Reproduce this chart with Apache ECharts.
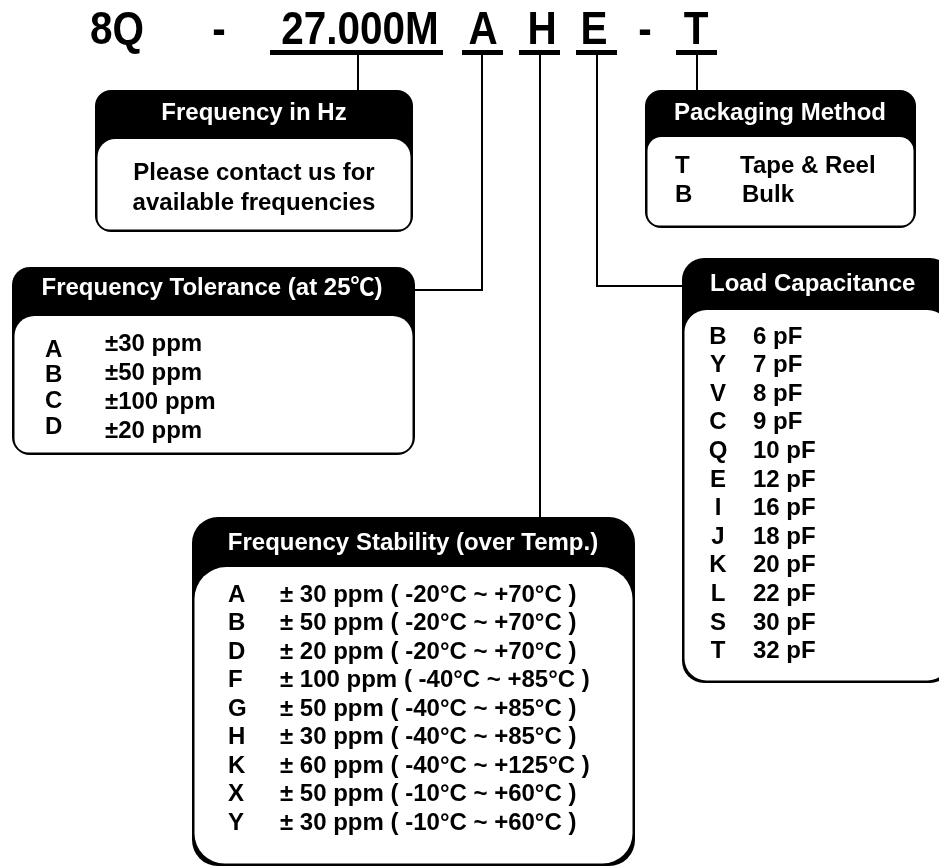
<!DOCTYPE html>
<html>
<head>
<meta charset="utf-8">
<script src="https://cdn.jsdelivr.net/npm/echarts@6/dist/echarts.min.js"></script>
<style>
  html, body { margin: 0; padding: 0; background: #fff; }
  #chart { width: 939px; height: 868px; }
</style>
</head>
<body>
<div id="chart"></div>
<script>
// part number segments
const partSegments = ['8Q', '-', '27.000M', 'A', 'H', 'E', '-', 'T']

// option boxes
const freqTitle = 'Frequency in Hz'
const freqLines = ['Please contact us for', 'available frequencies']

const packTitle = 'Packaging Method'
const packCodes = ['T', 'B']
const packNames = ['Tape & Reel', 'Bulk']

const tolTitle = 'Frequency Tolerance (at 25℃)'
const tolCodes = ['A', 'B', 'C', 'D']
const tolValues = ['±30 ppm', '±50 ppm', '±100 ppm', '±20 ppm']

const loadTitle = 'Load Capacitance'
const loadCodes = ['B', 'Y', 'V', 'C', 'Q', 'E', 'I', 'J', 'K', 'L', 'S', 'T']
const loadValues = ['6 pF', '7 pF', '8 pF', '9 pF', '10 pF', '12 pF', '16 pF', '18 pF', '20 pF', '22 pF', '30 pF', '32 pF']

const stabTitle = 'Frequency Stability (over Temp.)'
const stabCodes = ['A', 'B', 'D', 'F', 'G', 'H', 'K', 'X', 'Y']
const stabValues = [
  '± 30 ppm ( -20°C ~ +70°C )',
  '± 50 ppm ( -20°C ~ +70°C )',
  '± 20 ppm ( -20°C ~ +70°C )',
  '± 100 ppm ( -40°C ~ +85°C )',
  '± 50 ppm ( -40°C ~ +85°C )',
  '± 30 ppm ( -40°C ~ +85°C )',
  '± 60 ppm ( -40°C ~ +125°C )',
  '± 50 ppm ( -10°C ~ +60°C )',
  '± 30 ppm ( -10°C ~ +60°C )'
]

// layout
const FONT = '"Liberation Sans", Arial, "Noto Sans CJK SC", sans-serif'
const bodyFont = 'bold 24px ' + FONT
const segX = [117, 219, 360, 483, 542, 594, 645, 696]
const underlines = { 2: [270, 443], 3: [462, 503], 4: [519, 560], 5: [576, 617], 7: [676, 717] }

function txt(x, y, text, font, fill, align, vAlign, extra) {
  return Object.assign({
    type: 'text', x: x, y: y, silent: true,
    style: {
      text: text, font: font, fill: fill,
      align: align || 'left', verticalAlign: vAlign || 'middle',
      textAlign: align || 'left', textVerticalAlign: vAlign || 'middle'
    }
  }, extra || {})
}

// black box with header band and white body panel
function box(x, y, w, h, headBottom, rOut, rIn, rBot) {
  const lw = 2.5
  return [
    { type: 'rect', silent: true, shape: { x: x, y: y, width: w, height: h, r: rOut }, style: { fill: '#000' } },
    {
      type: 'rect', silent: true,
      shape: { x: x + lw, y: headBottom, width: w - 2 * lw, height: y + h - lw - headBottom, r: [rIn, rIn, rBot, rBot] },
      style: { fill: '#fff' }
    }
  ]
}

function line(points) {
  return { type: 'polyline', silent: true, shape: { points: points }, style: { stroke: '#000', lineWidth: 2, fill: null } }
}

const els = []

// title
partSegments.forEach((s, i) => {
  els.push(txt(segX[i], 31, s, 'bold 46px ' + FONT, '#000', 'center', 'middle', { scaleX: 0.88 }))
  if (underlines[i]) {
    const u = underlines[i]
    els.push({ type: 'rect', silent: true, shape: { x: u[0], y: 50, width: u[1] - u[0], height: 5 }, style: { fill: '#000' } })
  }
})

// connectors
els.push(line([[358, 55], [358, 92]]))
els.push(line([[482, 55], [482, 290], [413, 290]]))
els.push(line([[540, 55], [540, 519]]))
els.push(line([[597, 55], [597, 286], [684, 286]]))
els.push(line([[697, 55], [697, 92]]))

// frequency in Hz
els.push(...box(95, 90, 318, 142, 139, 16, 18, 12))
els.push(txt(254, 113, freqTitle, bodyFont, '#fff', 'center'))
freqLines.forEach((t, i) => els.push(txt(254, 173 + i * 30, t, bodyFont, '#000', 'center')))

// packaging method
els.push(...box(645, 90, 271, 138, 137, 16, 14, 12))
els.push(txt(780, 113, packTitle, bodyFont, '#fff', 'center'))
packCodes.forEach((c, i) => {
  els.push(txt(675, 166 + i * 29, c, bodyFont, '#000'))
  els.push(txt(740 + i * 2, 166 + i * 29, packNames[i], bodyFont, '#000'))
})

// frequency tolerance
els.push(...box(12, 267, 403, 188, 316, 18, 20, 14))
els.push(txt(212, 288, tolTitle, bodyFont, '#fff', 'center'))
tolCodes.forEach((c, i) => {
  els.push(txt(45, 350 + i * 25.7, c, bodyFont, '#000'))
  els.push(txt(105, 344 + i * 29, tolValues[i], bodyFont, '#000'))
})

// load capacitance
els.push(...box(682, 258, 270, 425, 310, 22, 22, 22))
els.push(txt(710, 284, loadTitle, bodyFont, '#fff'))
loadCodes.forEach((c, i) => {
  els.push(txt(718, 337 + i * 28.6, c, bodyFont, '#000', 'center'))
  els.push(txt(753, 337 + i * 28.6, loadValues[i], bodyFont, '#000'))
})

// frequency stability
els.push(...box(192, 517, 443, 349, 567, 26, 32, 30))
els.push(txt(413, 543, stabTitle, bodyFont, '#fff', 'center'))
stabCodes.forEach((c, i) => {
  els.push(txt(228, 595 + i * 28.5, c, bodyFont, '#000'))
  els.push(txt(280, 595 + i * 28.5, stabValues[i], bodyFont, '#000'))
})

const chart = echarts.init(document.getElementById('chart'), null, { renderer: 'canvas' })
chart.setOption({
  backgroundColor: '#fff',
  animation: false,
  graphic: { elements: els }
})
</script>
</body>
</html>
